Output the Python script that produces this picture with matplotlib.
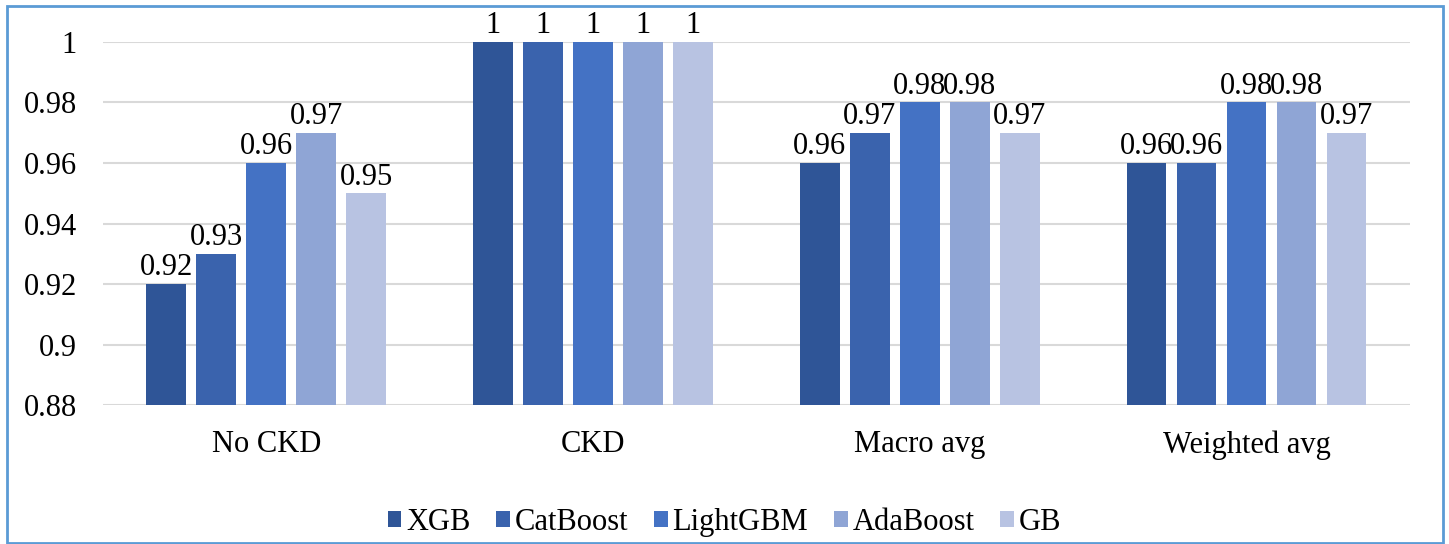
import numpy as np
import matplotlib.pyplot as plt
from matplotlib.patches import Rectangle

categories = ["No CKD", "CKD", "Macro avg", "Weighted avg"]
models = ["XGB", "CatBoost", "LightGBM", "AdaBoost", "GB"]
xgb = [0.92, 1.00, 0.96, 0.96]
catboost = [0.93, 1.00, 0.97, 0.96]
lightgbm = [0.96, 1.00, 0.98, 0.98]
adaboost = [0.97, 1.00, 0.98, 0.98]
gb = [0.95, 1.00, 0.97, 0.97]
yticks = [0.88, 0.90, 0.92, 0.94, 0.96, 0.98, 1.00]

series = [xgb, catboost, lightgbm, adaboost, gb]
colors = ["#2F5597", "#3A63AD", "#4472C4", "#8FA5D5", "#B8C3E2"]

plt.rcParams["font.family"] = ["Liberation Serif", "DejaVu Serif"]

fig = plt.figure(figsize=(14.49, 5.44), dpi=100)
ax = fig.add_axes([0.0711, 0.2555, 0.9019, 0.6673])

# ----------------------------
# Grouped bars
# ----------------------------

x = np.arange(len(categories))
pitch = 0.153
width = 0.122

for i, (name, vals, col) in enumerate(zip(models, series, colors)):
    pos = x + (i - 2) * pitch
    ax.bar(pos, vals, width=width, color=col, label=name, zorder=3)
    for px, v in zip(pos, vals):
        ax.text(px, v + 0.0005, f"{v:g}", ha="center", va="bottom",
                fontsize=22, zorder=4)

# ----------------------------
# Axes styling
# ----------------------------

ax.set_ylim(0.88, 1.0)
ax.set_xlim(-0.5, 3.5)
ax.set_yticks(yticks)
ax.set_yticklabels([f"{t:g}" for t in yticks])
ax.set_xticks(x)
ax.set_xticklabels(categories)
ax.tick_params(axis="both", length=0, labelsize=22)
ax.tick_params(axis="y", pad=19)
ax.tick_params(axis="x", pad=18)
ax.grid(axis="y", color="#D9D9D9", linewidth=1.5, zorder=0)
for s in ax.spines.values():
    s.set_visible(False)

ax.legend(loc="center", bbox_to_anchor=(0.5, 0.04),
          bbox_transform=fig.transFigure, ncol=5, frameon=False,
          fontsize=22, handlelength=0.45, handleheight=0.45,
          handletextpad=0.15, columnspacing=0.85)

# outer frame
fig.patches.append(Rectangle((7 / 1449, 0.002), 1436 / 1449, 0.987,
                             transform=fig.transFigure, fill=False,
                             edgecolor="#5B9BD5", linewidth=2))

fig.savefig("out.png", dpi=100)
